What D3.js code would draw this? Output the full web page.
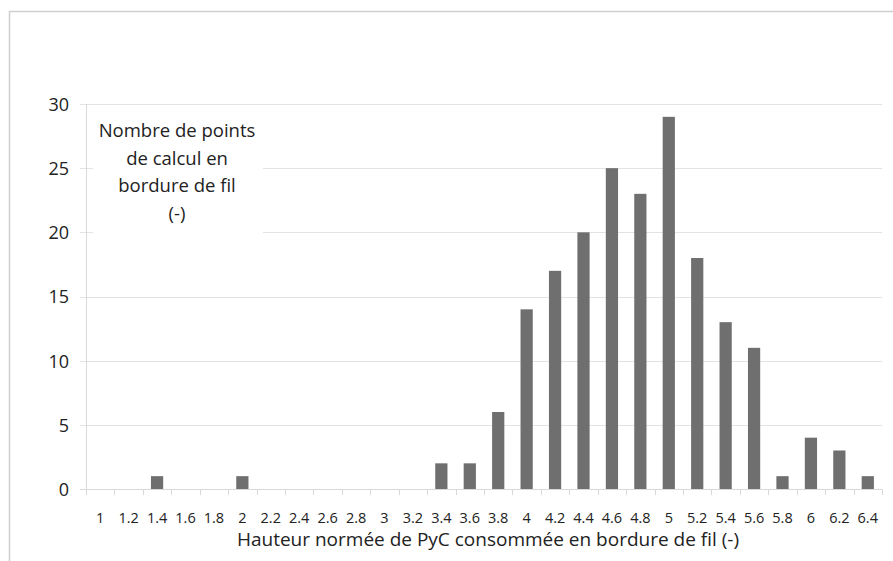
<!DOCTYPE html>
<html>
<head>
<meta charset="utf-8">
<script src="https://cdn.jsdelivr.net/npm/d3@7"></script>
<style>
  body { margin: 0; background: #fff; }
  svg { display: block; font-family: "Open Sans", Lato, sans-serif; }
</style>
</head>
<body>
<div id="chart"></div>
<script>
// categories (hauteur normée) and counts
const categories = ["1","1.2","1.4","1.6","1.8","2","2.2","2.4","2.6","2.8","3","3.2","3.4","3.6",
                    "3.8","4","4.2","4.4","4.6","4.8","5","5.2","5.4","5.6","5.8","6","6.2","6.4"];
const counts = [0,0,1,0,0,1,0,0,0,0,0,0,2,2,6,14,17,20,25,23,29,18,13,11,1,4,3,1];
const yTicks = [0,5,10,15,20,25,30];
const yLabelLines = ["Nombre de points", "de calcul en", "bordure de fil", "(-)"];
const xTitle = "Hauteur normée de PyC consommée en bordure de fil (-)";

const width = 893, height = 561;
const margin = {top: 104, right: 11, bottom: 72, left: 86};
const plotW = width - margin.left - margin.right;
const plotH = height - margin.top - margin.bottom;
const barColor = "#6f6f6f";
const gridColor = "#e3e3e3";

const data = categories.map((c, i) => ({key: c, value: counts[i]}));

const svg = d3.select("#chart").append("svg")
    .attr("width", width)
    .attr("height", height);

// outer frame (goes past right and bottom edges)
svg.append("rect")
    .attr("x", 9.5).attr("y", 11.5)
    .attr("width", width).attr("height", height)
    .attr("fill", "none")
    .attr("stroke", "#cfcfcf")
    .attr("stroke-width", 1.5);

const g = svg.append("g")
    .attr("transform", `translate(${margin.left}, ${margin.top})`);

const x = d3.scaleBand()
    .domain(categories)
    .range([0, plotW])
    .padding(0);

const y = d3.scaleLinear()
    .domain([0, 30])
    .range([plotH, 0]);

// horizontal gridlines, with a small stub to the left of the axis
g.append("g")
    .selectAll("line")
    .data(yTicks.filter(d => d > 0))
    .join("line")
    .attr("x1", -6).attr("x2", plotW)
    .attr("y1", d => Math.round(y(d)) + 0.5)
    .attr("y2", d => Math.round(y(d)) + 0.5)
    .attr("stroke", gridColor)
    .attr("stroke-width", 1);

// y axis line
g.append("line")
    .attr("x1", 0.5).attr("x2", 0.5)
    .attr("y1", 0).attr("y2", plotH)
    .attr("stroke", "#d9d9d9");

// y tick labels
g.append("g")
    .selectAll("text")
    .data(yTicks)
    .join("text")
    .attr("x", -17)
    .attr("y", d => y(d))
    .attr("dy", "0.38em")
    .attr("text-anchor", "end")
    .attr("font-size", "18px")
    .attr("fill", "#222")
    .text(d => d);

// white box behind the y label
g.append("rect")
    .attr("x", 7).attr("y", 4)
    .attr("width", 170).attr("height", 132)
    .attr("fill", "#fff");

g.append("g")
    .selectAll("text")
    .data(yLabelLines)
    .join("text")
    .attr("x", 91)
    .attr("y", (d, i) => 33 + i * 27.7)
    .attr("text-anchor", "middle")
    .attr("font-size", "18.5px")
    .attr("fill", "#222")
    .text(d => d);

// x axis
const xAxis = g.append("g")
    .attr("transform", `translate(0, ${plotH})`);

xAxis.append("line")
    .attr("x1", -6).attr("x2", plotW)
    .attr("y1", 0.5).attr("y2", 0.5)
    .attr("stroke", "#d9d9d9");

xAxis.selectAll("line.tick")
    .data(categories.concat(["end"]))
    .join("line")
    .attr("class", "tick")
    .attr("x1", (d, i) => Math.round(i * x.step()) + 0.5)
    .attr("x2", (d, i) => Math.round(i * x.step()) + 0.5)
    .attr("y1", 0).attr("y2", 6)
    .attr("stroke", "#d9d9d9");

xAxis.selectAll("text")
    .data(categories)
    .join("text")
    .attr("x", d => x(d) + x.bandwidth() / 2)
    .attr("y", 34)
    .attr("text-anchor", "middle")
    .attr("font-size", "14.5px")
    .attr("fill", "#222")
    .text(d => d);

// bars
const bw = x.bandwidth() * 0.43;
g.append("g")
    .selectAll("rect")
    .data(data.filter(d => d.value > 0))
    .join("rect")
    .attr("x", d => x(d.key) + (x.bandwidth() - bw) / 2)
    .attr("y", d => y(d.value))
    .attr("width", bw)
    .attr("height", d => plotH - y(d.value))
    .attr("fill", barColor);

// x title
svg.append("text")
    .attr("x", margin.left + plotW / 2 + 4)
    .attr("y", 546)
    .attr("text-anchor", "middle")
    .attr("font-size", "19px")
    .attr("fill", "#222")
    .text(xTitle);
</script>
</body>
</html>
